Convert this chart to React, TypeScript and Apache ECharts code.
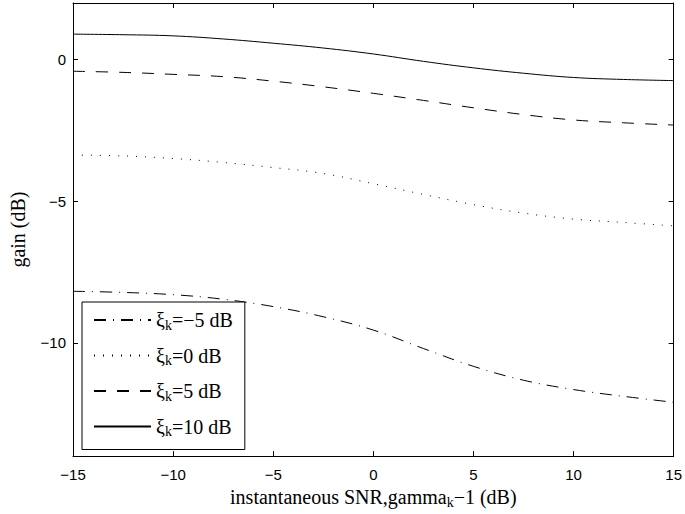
import React, { useEffect, useRef } from "react";
import * as echarts from "echarts";

const snrDb = [-15, -12.5, -10, -7.5, -5, -2.5, 0, 2.5, 5, 7.5, 10, 12.5, 15];
const gainXiM5 = [-8.18, -8.22, -8.3, -8.46, -8.72, -9.08, -9.55, -10.2, -10.83, -11.32, -11.65, -11.89, -12.1];
const gainXi0 = [-3.37, -3.4, -3.49, -3.63, -3.81, -4.02, -4.38, -4.76, -5.12, -5.42, -5.63, -5.75, -5.87];
const gainXi5 = [-0.41, -0.45, -0.52, -0.6, -0.76, -0.96, -1.19, -1.44, -1.7, -1.94, -2.13, -2.23, -2.31];
const gainXi10 = [0.9, 0.88, 0.84, 0.73, 0.58, 0.41, 0.2, -0.06, -0.29, -0.48, -0.63, -0.7, -0.74];
const legendLabels = ["−5", "0", "5", "10"];
const yTicks = [-10, -5, 0];

const SERIF = "'Liberation Serif', 'Times New Roman', serif";
const SANS = "'Liberation Sans', Arial, Helvetica, sans-serif";

export default function App() {
  const ref = useRef<HTMLDivElement>(null);
  useEffect(() => {
    document.body.style.margin = "0";
    const chart = echarts.init(ref.current!, null, { renderer: "svg" });
    const mk = (ys: number[]) => snrDb.map((x, i) => [x, ys[i]]);
    const names = legendLabels.map((l) => "xi" + l);
    const styles: any[] = [
      [12, 7, 1, 7],
      [1, 8],
      [12, 11],
      "solid",
    ];
    const datas = [gainXiM5, gainXi0, gainXi5, gainXi10];
    const fmt = (v: number) => String(v).replace("-", "−");
    const tickCommon = { show: true, inside: true, length: 5, lineStyle: { color: "#000", width: 1 } };
    const lineCommon = { show: true, onZero: false, lineStyle: { color: "#000", width: 1 } };
    const rich = {
      a: { fontFamily: SERIF, fontSize: 20, color: "#000", lineHeight: 22 },
      s: { fontFamily: SERIF, fontSize: 14, color: "#000", padding: [10, 0, 0, 0] },
    };
    chart.setOption({
      animation: false,
      backgroundColor: "#fff",
      grid: { left: 73, right: 9, top: 3, bottom: 57 },
      xAxis: [
        {
          type: "value",
          min: -15,
          max: 15,
          interval: 5,
          position: "bottom",
          axisLine: lineCommon,
          axisTick: tickCommon,
          splitLine: { show: false },
          axisLabel: { formatter: fmt, fontFamily: SANS, fontSize: 15, color: "#000", margin: 11 },
          name: "{a|instantaneous SNR,gamma}{s|k}{a|−1 (dB)}",
          nameLocation: "middle",
          nameGap: 26,
          nameTextStyle: { rich },
        },
        {
          type: "value",
          min: -15,
          max: 15,
          interval: 5,
          position: "top",
          axisLine: lineCommon,
          axisTick: tickCommon,
          splitLine: { show: false },
          axisLabel: { show: false },
        },
      ],
      yAxis: [
        {
          type: "value",
          min: -14,
          max: 2,
          position: "left",
          axisLine: lineCommon,
          axisTick: { ...tickCommon, customValues: yTicks },
          splitLine: { show: false },
          axisLabel: { customValues: yTicks, formatter: fmt, fontFamily: SANS, fontSize: 15, color: "#000", margin: 7 },
          name: "gain (dB)",
          nameLocation: "middle",
          nameGap: 45,
          nameTextStyle: { fontFamily: SERIF, fontSize: 20, color: "#000" },
        },
        {
          type: "value",
          min: -14,
          max: 2,
          position: "right",
          axisLine: lineCommon,
          axisTick: { ...tickCommon, customValues: yTicks },
          splitLine: { show: false },
          axisLabel: { show: false },
        },
      ],
      legend: {
        orient: "vertical",
        left: 82,
        top: 302,
        itemWidth: 57,
        itemHeight: 14,
        itemGap: 13.5,
        padding: [8, 12, 11, 11],
        borderColor: "#000",
        borderWidth: 1,
        backgroundColor: "#fff",
        data: names,
        itemStyle: { color: "transparent", borderColor: "transparent", borderWidth: 0, opacity: 0 },
        formatter: (n: string) => "{a|ξ}{s|k}{a|=" + n.slice(2) + " dB}",
        textStyle: { color: "#000", rich },
      },
      series: names.map((n, i) => ({
        name: n,
        type: "line",
        xAxisIndex: 0,
        yAxisIndex: 0,
        data: mk(datas[i]),
        showSymbol: false,
        symbol: "none",
        smooth: 0.4,
        lineStyle: { color: "#000", width: 1, type: styles[i] },
        itemStyle: { color: "#000" },
      })),
    });
    return () => chart.dispose();
  }, []);
  return <div ref={ref} style={{ width: 685, height: 514 }} />;
}
